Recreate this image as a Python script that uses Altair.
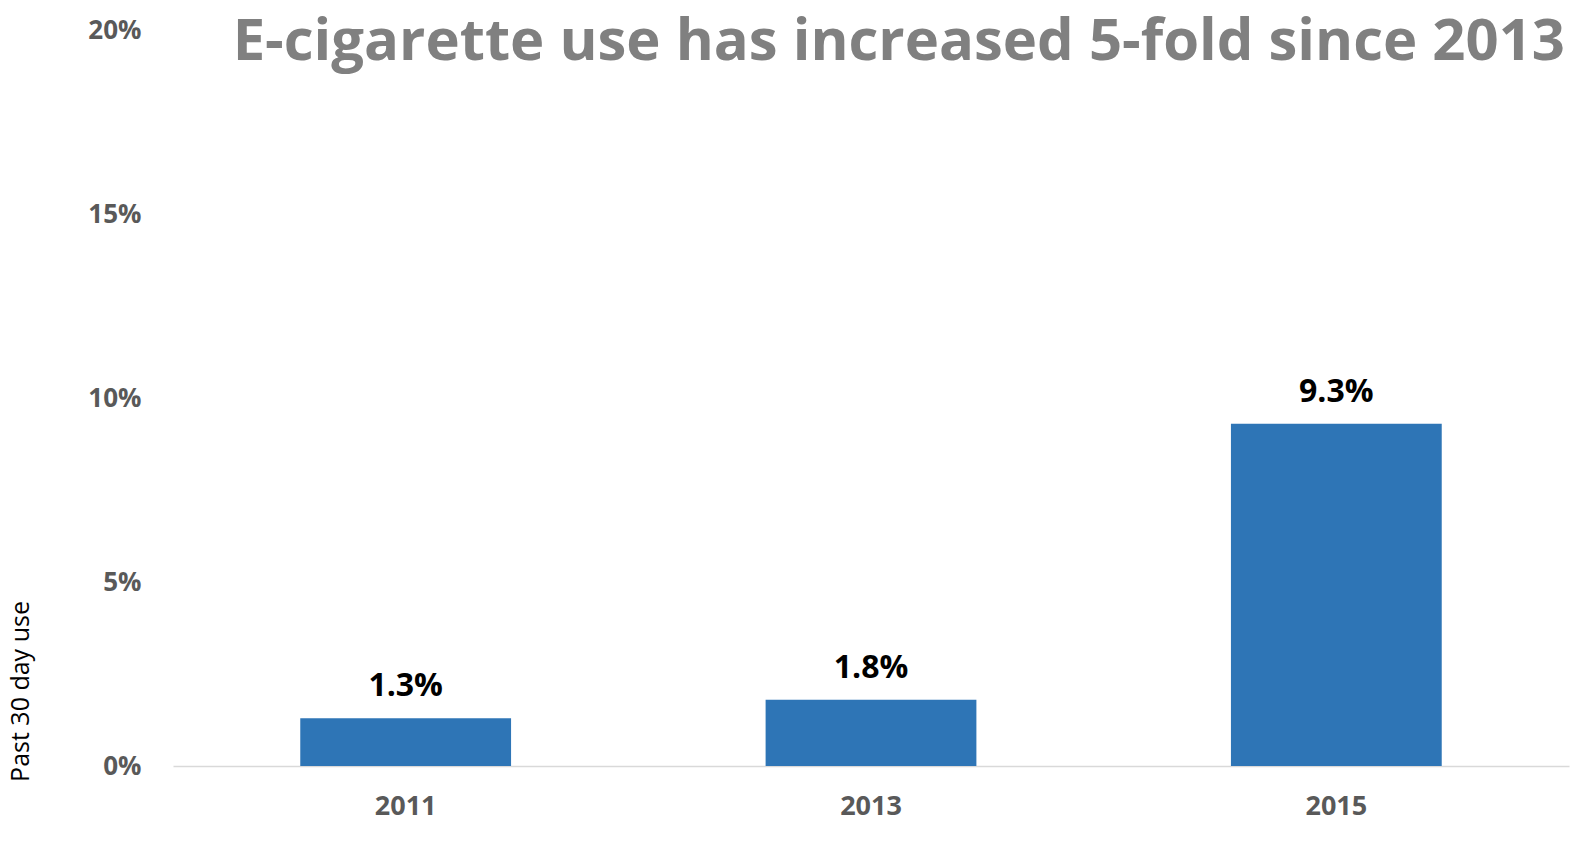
import altair as alt
import pandas as pd

years = ["2011", "2013", "2015"]
values = [0.013, 0.018, 0.093]
y_ticks = [0, 0.05, 0.10, 0.15, 0.20]
title_text = "E-cigarette use has increased 5-fold since 2013"
y_title = "Past 30 day use"

df = pd.DataFrame({"year": years, "value": values})
title_df = pd.DataFrame({"t": [title_text]})

FONT = "Open Sans"

base = alt.Chart(df).encode(
    x=alt.X("year:N", sort=years, title=None,
            scale=alt.Scale(paddingInner=0.547, paddingOuter=0.2735),
            axis=alt.Axis(labelAngle=0, labelFont=FONT, labelFontSize=27,
                          labelFontWeight="bold", labelColor="#595959",
                          ticks=False, domainColor="#d9d9d9", domainWidth=1.5,
                          labelPadding=27, grid=False)),
    y=alt.Y("value:Q", title=y_title,
            scale=alt.Scale(domain=[0, 0.2]),
            axis=alt.Axis(values=y_ticks, format=".0%", labelFont=FONT,
                          labelFontSize=26, labelFontWeight="bold",
                          labelColor="#595959", ticks=False, domain=False,
                          grid=False, labelPadding=32,
                          titleFont=FONT, titleFontSize=25, titleFontWeight="normal",
                          titleColor="#000000", titleAngle=270,
                          titleX=-153, titleY=661, titleAlign="center",
                          titleBaseline="middle")),
)

bars = base.mark_bar(color="#2E75B6")

labels = base.mark_text(font=FONT, fontSize=32, fontWeight="bold", color="#000000",
                        baseline="alphabetic", dy=-22).encode(
    text=alt.Text("value:Q", format=".1%"))

title = alt.Chart(title_df).mark_text(font=FONT, fontSize=58, fontWeight="bold",
                                      color="#808080", align="right",
                                      baseline="alphabetic").encode(
    x=alt.value(1392), y=alt.value(30), text="t:N")

chart = alt.layer(bars, labels, title).properties(
    width=1396, height=736,
    autosize=alt.AutoSizeParams(type="none"),
    padding={"left": 173, "top": 30, "right": 6, "bottom": 83},
    background="white",
).configure_view(stroke=None)

chart.save("out.html", embed_options={"renderer": "svg", "actions": False})
